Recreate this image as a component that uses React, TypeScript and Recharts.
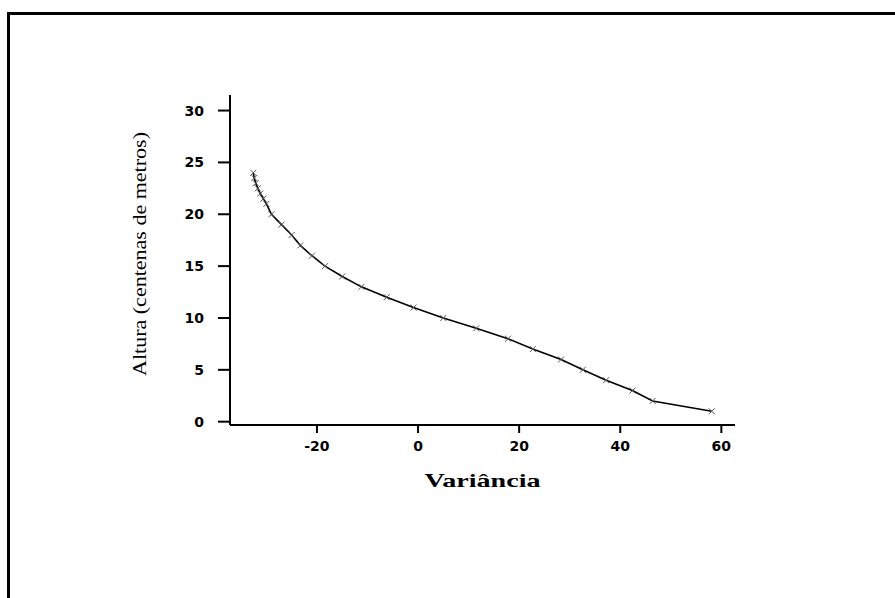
import { LineChart, Line, XAxis, YAxis } from "recharts";

const heights = [
  24, 23.5, 23, 22.5, 22, 21.5, 21, 20, 19, 18, 17, 16, 15, 14, 13, 12, 11, 10,
  9, 8, 7, 6, 5, 4, 3, 2, 1,
];
const variance = [
  -32.6, -32.4, -32.1, -31.7, -31.2, -30.6, -30.0, -29.0, -27.0, -25.0, -23.3,
  -21.0, -18.4, -15.0, -11.2, -6.2, -0.9, 5.0, 11.5, 17.8, 22.7, 28.3, 32.6,
  37.2, 42.4, 46.4, 58.1,
];
const xTicks = [-20, 0, 20, 40, 60];
const yTicks = [0, 5, 10, 15, 20, 25, 30];

const data = heights.map((h, i) => ({ x: variance[i], y: h }));

const tickStyle = {
  fill: "#000",
  fontSize: 14,
  fontWeight: "bold",
  fontFamily: "DejaVu Sans",
};

function Cross(props: any) {
  const { cx, cy, index } = props;
  if (cx == null || cy == null) return null;
  const s = 3;
  return (
    <path
      key={index}
      d={`M${cx - s},${cy - s}L${cx + s},${cy + s}M${cx - s},${cy + s}L${cx + s},${cy - s}`}
      stroke="#555"
      strokeWidth={1}
      fill="none"
    />
  );
}

function yTitle(props: any) {
  const { x, y, height } = props.viewBox;
  const cx = x - 14;
  const cy = y + height / 2 - 6;
  return (
    <text
      x={cx}
      y={cy}
      transform={`rotate(-90, ${cx}, ${cy})`}
      textAnchor="middle"
      fontFamily="Liberation Serif"
      fontSize={19}
      textLength={244}
      lengthAdjust="spacingAndGlyphs"
      fill="#000"
    >
      Altura (centenas de metros)
    </text>
  );
}

function xTitle(props: any) {
  const { x, y, width } = props.viewBox;
  return (
    <text
      x={x + width / 2}
      y={y + 62}
      textAnchor="middle"
      fontFamily="Liberation Serif"
      fontWeight="bold"
      fontSize={19}
      textLength={116}
      lengthAdjust="spacingAndGlyphs"
      fill="#000"
    >
      Variância
    </text>
  );
}

export default function App() {
  return (
    <div
      style={{
        position: "absolute",
        left: 0,
        top: 0,
        width: 895,
        height: 598,
        overflow: "hidden",
        background: "#fff",
      }}
    >
      <div
        style={{
          position: "absolute",
          left: 7,
          top: 12,
          width: 1000,
          height: 1000,
          border: "3px solid #000",
        }}
      />
      <div style={{ position: "absolute", left: 0, top: 0 }}>
        <LineChart
          width={895}
          height={598}
          data={data}
          margin={{ top: 95, right: 160, left: 160, bottom: 143 }}
        >
          <XAxis
            type="number"
            dataKey="x"
            domain={[-37.2, 62.7]}
            ticks={xTicks}
            allowDataOverflow
            height={30}
            tickSize={8}
            tickMargin={8}
            axisLine={{ stroke: "#000", strokeWidth: 2 }}
            tickLine={{ stroke: "#000", strokeWidth: 2 }}
            tick={tickStyle}
            label={xTitle}
          />
          <YAxis
            type="number"
            dataKey="y"
            domain={[-0.32, 31.5]}
            ticks={yTicks}
            allowDataOverflow
            width={70}
            tickSize={12}
            tickMargin={14}
            axisLine={{ stroke: "#000", strokeWidth: 2 }}
            tickLine={{ stroke: "#000", strokeWidth: 2 }}
            tick={tickStyle}
            label={yTitle}
          />
          <Line
            type="linear"
            dataKey="y"
            stroke="#000"
            strokeWidth={1.6}
            dot={Cross}
            activeDot={false}
            isAnimationActive={false}
          />
        </LineChart>
      </div>
    </div>
  );
}
